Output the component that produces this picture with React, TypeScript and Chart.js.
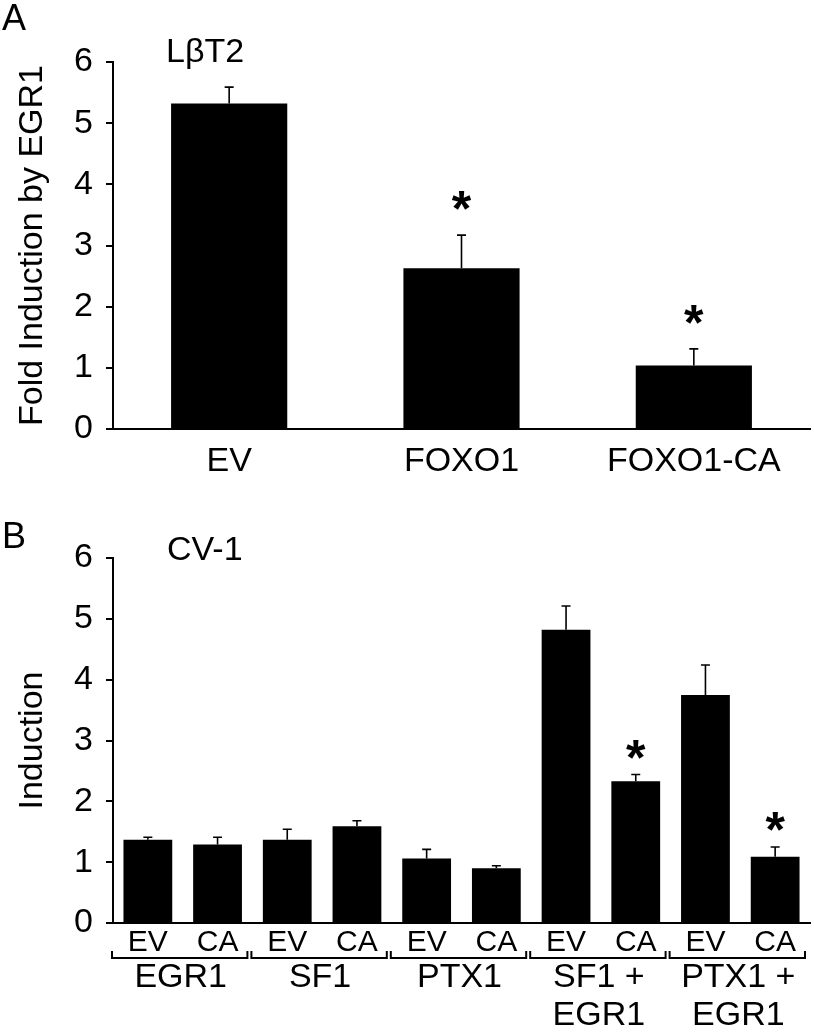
import React, { useEffect, useRef } from "react";
import { Chart, registerables } from "chart.js";
Chart.register(...registerables);

const FONT = "'Liberation Sans', Arial, Helvetica, sans-serif";

// ---------- Panel A data ----------
const catsA = ["EV", "FOXO1", "FOXO1-CA"];
const valsA = [5.32, 2.63, 1.04];
const errA = [0.27, 0.54, 0.27];
const starA = [false, true, true];

// ---------- Panel B data ----------
const catsB = ["EV", "CA", "EV", "CA", "EV", "CA", "EV", "CA", "EV", "CA"];
const groupsB = [["EGR1"], ["SF1"], ["PTX1"], ["SF1 +", "EGR1"], ["PTX1 +", "EGR1"]];
const valsB = [1.37, 1.29, 1.37, 1.59, 1.06, 0.9, 4.82, 2.33, 3.75, 1.09];
const errB = [0.04, 0.12, 0.17, 0.09, 0.15, 0.04, 0.39, 0.11, 0.49, 0.16];
const starB = [false, false, false, false, false, false, false, true, false, true];

const yTickMin = 0;
const yTickMax = 6;
const yTickStep = 1;

function errorPlugin(errs: number[], stars: boolean[], starGap: number) {
  return {
    id: "errbars",
    afterDatasetsDraw(chart: any) {
      const { ctx } = chart;
      const meta = chart.getDatasetMeta(0);
      const ys = chart.scales.y;
      const vals = chart.data.datasets[0].data as number[];
      ctx.save();
      ctx.strokeStyle = "#000";
      ctx.lineWidth = 1.6;
      meta.data.forEach((bar: any, i: number) => {
        const x = bar.x;
        const top = ys.getPixelForValue(vals[i]);
        const et = ys.getPixelForValue(vals[i] + errs[i]);
        ctx.beginPath();
        ctx.moveTo(x, top);
        ctx.lineTo(x, et);
        ctx.moveTo(x - 4.5, et);
        ctx.lineTo(x + 4.5, et);
        ctx.stroke();
        if (stars[i]) {
          ctx.fillStyle = "#000";
          ctx.font = `bold 50px ${FONT}`;
          ctx.textAlign = "center";
          ctx.textBaseline = "alphabetic";
          ctx.fillText("*", x, et - starGap);
        }
      });
      ctx.restore();
    },
  };
}

function textPlugin(items: { t: string; x: number; y: number; size: number }[]) {
  return {
    id: "texts",
    afterDraw(chart: any) {
      const { ctx } = chart;
      ctx.save();
      ctx.fillStyle = "#000";
      ctx.textAlign = "left";
      ctx.textBaseline = "alphabetic";
      items.forEach((it) => {
        ctx.font = `${it.size}px ${FONT}`;
        ctx.fillText(it.t, it.x, it.y);
      });
      ctx.restore();
    },
  };
}

const groupPlugin = {
  id: "groups",
  afterDraw(chart: any) {
    const { ctx } = chart;
    const xs = chart.scales.x;
    ctx.save();
    ctx.strokeStyle = "#000";
    ctx.fillStyle = "#000";
    ctx.lineWidth = 2;
    ctx.font = `34px ${FONT}`;
    ctx.textAlign = "center";
    ctx.textBaseline = "alphabetic";
    groupsB.forEach((lines, g) => {
      const p0 = xs.getPixelForValue(2 * g);
      const p1 = xs.getPixelForValue(2 * g + 1);
      const mid = (p0 + p1) / 2;
      const span = (p1 - p0) * 2;
      const l = mid - span / 2 - 1;
      const r = mid + span / 2 - 5;
      const yb = 458;
      ctx.beginPath();
      ctx.moveTo(l, yb - 7);
      ctx.lineTo(l, yb);
      ctx.lineTo(r, yb);
      ctx.lineTo(r, yb - 7);
      ctx.stroke();
      lines.forEach((t, k) => {
        ctx.fillText(t, mid - 2, 487 + k * 38);
      });
    });
    ctx.restore();
  },
};

function makeOptions(opts: {
  padTop: number;
  xHeight: number;
  barPct: number;
  yTitle: string;
  xFont: number;
  xPad: number;
}) {
  return {
    responsive: false,
    animation: false as const,
    devicePixelRatio: 1,
    layout: { padding: { top: opts.padTop, right: 4, left: 0, bottom: 0 } },
    plugins: { legend: { display: false }, tooltip: { enabled: false }, title: { display: false } },
    datasets: { bar: { barPercentage: opts.barPct, categoryPercentage: 1 } },
    scales: {
      x: {
        type: "category" as const,
        grid: { display: false, drawTicks: false },
        border: { display: true, color: "#000", width: 2 },
        ticks: {
          color: "#000",
          font: { family: FONT, size: opts.xFont },
          padding: opts.xPad,
          maxRotation: 0,
          autoSkip: false,
        },
        afterFit(s: any) {
          s.height = opts.xHeight;
        },
      },
      y: {
        min: yTickMin,
        max: yTickMax,
        grid: {
          display: true,
          drawOnChartArea: false,
          drawTicks: true,
          tickLength: 7,
          color: "#000",
          lineWidth: 2,
        },
        border: { display: true, color: "#000", width: 2 },
        ticks: {
          stepSize: yTickStep,
          color: "#000",
          font: { family: FONT, size: 34 },
          padding: 13,
        },
        title: {
          display: true,
          text: opts.yTitle,
          color: "#000",
          font: { family: FONT, size: 34 },
          padding: { top: 12, bottom: 0 },
        },
        afterFit(s: any) {
          s.width = 113;
        },
      },
    },
  };
}

function PanelA() {
  const ref = useRef<HTMLCanvasElement>(null);
  useEffect(() => {
    const chart = new Chart(ref.current!, {
      type: "bar",
      data: {
        labels: catsA,
        datasets: [{ data: valsA, backgroundColor: "#000", borderWidth: 0 }],
      },
      options: makeOptions({
        padTop: 62,
        xHeight: 71,
        barPct: 0.5,
        yTitle: "Fold Induction by EGR1",
        xFont: 34,
        xPad: 12,
      }) as any,
      plugins: [
        errorPlugin(errA, starA, 9),
        textPlugin([
          { t: "A", x: 2, y: 30, size: 36 },
          { t: "LβT2", x: 166, y: 62, size: 34 },
        ]),
      ],
    });
    return () => chart.destroy();
  }, []);
  return <canvas ref={ref} width={814} height={500} style={{ display: "block" }} />;
}

function PanelB() {
  const ref = useRef<HTMLCanvasElement>(null);
  useEffect(() => {
    const chart = new Chart(ref.current!, {
      type: "bar",
      data: {
        labels: catsB,
        datasets: [{ data: valsB, backgroundColor: "#000", borderWidth: 0 }],
      },
      options: makeOptions({
        padTop: 58,
        xHeight: 112,
        barPct: 0.7,
        yTitle: "Induction",
        xFont: 30,
        xPad: 2,
      }) as any,
      plugins: [
        errorPlugin(errB, starB, 0),
        groupPlugin,
        textPlugin([
          { t: "B", x: 2, y: 48, size: 36 },
          { t: "CV-1", x: 167, y: 60, size: 34 },
        ]),
      ],
    });
    return () => chart.destroy();
  }, []);
  return <canvas ref={ref} width={814} height={535} style={{ display: "block" }} />;
}

export default function App() {
  return (
    <div style={{ position: "absolute", left: 0, top: 0, width: 814, height: 1035, background: "#fff" }}>
      <PanelA />
      <PanelB />
    </div>
  );
}
